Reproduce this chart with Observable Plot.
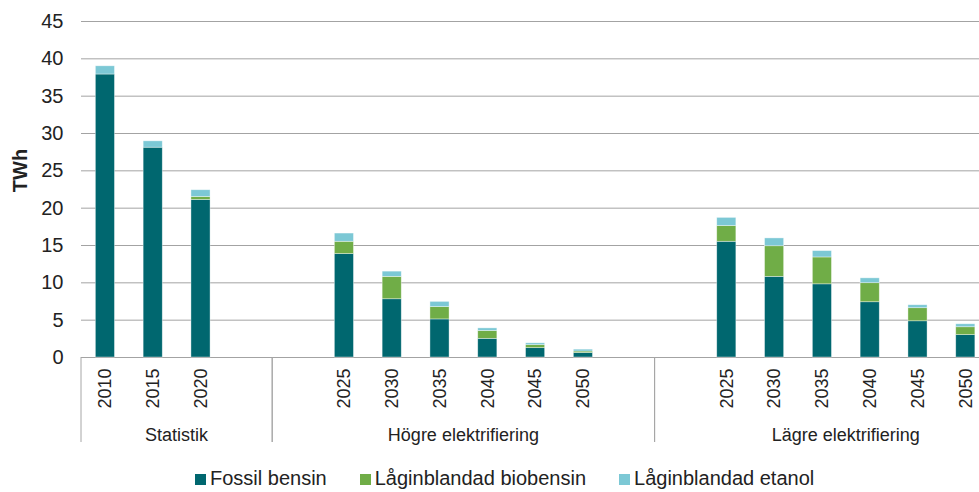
<!DOCTYPE html>
<html>
<head>
<meta charset="utf-8">
<script src="https://cdn.jsdelivr.net/npm/d3@7"></script>
<script src="https://cdn.jsdelivr.net/npm/@observablehq/plot@0.6"></script>
<style>
  html, body { margin: 0; padding: 0; background: #fff; }
  #wrap { width: 979px; height: 492px; overflow: hidden; position: relative; font-family: "Liberation Sans", Arial, sans-serif; }
  #chart { width: 979px; height: 463px; overflow: hidden; }
  #chart svg { max-width: none !important; }
  #legend { display: flex; justify-content: flex-start; align-items: baseline; padding-left: 195px; padding-top: 3px; font-size: 20px; color: #222; line-height: 24px; }
  #legend .item { margin-right: 33px; }
  #legend .sw { display: inline-block; width: 11px; height: 11px; margin-right: 4px; }
</style>
</head>
<body>
<div id="wrap">
  <div id="chart"></div>
  <div id="legend"></div>
</div>
<script>
// ---- data ----
const groups = ["Statistik", "Högre elektrifiering", "Lägre elektrifiering"];
const statistikYears = ["2010", "2015", "2020"];
const hogreYears = ["2025", "2030", "2035", "2040", "2045", "2050"];
const lagreYears = ["2025", "2030", "2035", "2040", "2045", "2050"];
const seriesNames = ["Fossil bensin", "Låginblandad biobensin", "Låginblandad etanol"];
const seriesColors = ["#00676F", "#70AD47", "#7CC8D5"];
const fossil    = [37.9, 28.1, 21.1, 13.85, 7.8, 5.1, 2.5, 1.25, 0.6, 15.5, 10.8, 9.8, 7.4, 4.85, 3.0];
const biobensin = [0, 0, 0.4, 1.65, 3.0, 1.65, 1.05, 0.4, 0.2, 2.1, 4.1, 3.6, 2.55, 1.75, 1.05];
const etanol    = [1.1, 0.85, 0.9, 1.1, 0.7, 0.7, 0.35, 0.25, 0.25, 1.1, 1.05, 0.85, 0.65, 0.4, 0.4];
const yTicks = [0, 5, 10, 15, 20, 25, 30, 35, 40, 45];

// ---- build slots (group layout: Statistik has a trailing empty slot, others leading+trailing) ----
const groupSlots = [];
const labelOf = new Map();
const barKeys = [];
[[groups[0], statistikYears, false], [groups[1], hogreYears, true], [groups[2], lagreYears, true]].forEach(([g, years, lead]) => {
  const keys = [];
  if (lead) { const k = g + "|pre"; keys.push(k); labelOf.set(k, ""); }
  years.forEach(y => { const k = g + "|" + y; keys.push(k); labelOf.set(k, y); barKeys.push(k); });
  const k2 = g + "|post"; keys.push(k2); labelOf.set(k2, "");
  groupSlots.push({group: g, keys});
});
const slotKeys = groupSlots.flatMap(d => d.keys);
const seriesValues = [fossil, biobensin, etanol];
const rows = [];
barKeys.forEach((k, i) => {
  seriesNames.forEach((s, si) => rows.push({slot: k, series: s, value: seriesValues[si][i]}));
});

const plot = Plot.plot({
  width: 1037,
  height: 463,
  marginLeft: 81,
  marginRight: 0,
  marginTop: 21,
  marginBottom: 106,
  style: {fontFamily: "Liberation Sans, Arial, sans-serif", fontSize: "18px", color: "#222", background: "#fff", maxWidth: "none"},
  x: {domain: slotKeys, paddingInner: 0.6, paddingOuter: 0.3, align: 0.5, round: false, axis: null},
  y: {domain: [0, 45], axis: null},
  color: {domain: seriesNames, range: seriesColors},
  marks: [
    Plot.gridY(yTicks, {stroke: "#a3a3a3", strokeOpacity: 1}),
    Plot.barY(rows, {x: "slot", y: "value", fill: "series", order: seriesNames, stroke: "#ffffff", strokeWidth: 0.7, strokeOpacity: 0.55}),
    Plot.axisY(yTicks, {tickSize: 0, tickPadding: 18, fontSize: 20, label: null}),
    Plot.axisX({tickRotate: -90, tickSize: 0, tickPadding: 11, fontSize: 18, label: null, tickFormat: k => labelOf.get(k)}),
    Plot.text(["TWh"], {frameAnchor: "left", textAnchor: "middle", lineAnchor: "middle", rotate: -90, dx: -61, dy: -19, fontWeight: "bold", fontSize: 20, fill: "#222"})
  ]
});

// group separators and labels, placed with the plot's own scales
const xs = plot.scale("x");
const ys = plot.scale("y");
const y0 = ys.apply(0);
const svg = d3.select(plot);
svg.style("max-width", "none");
const g = svg.append("g").attr("font-size", 18).attr("fill", "#222").attr("text-anchor", "middle");
groupSlots.forEach(({group, keys}) => {
  const left = xs.apply(keys[0]) + xs.bandwidth / 2 - xs.step / 2;
  const right = xs.apply(keys[keys.length - 1]) + xs.bandwidth / 2 + xs.step / 2;
  g.append("line").attr("x1", left).attr("x2", left).attr("y1", y0).attr("y2", y0 + 85)
    .attr("stroke", "#a6a6a6");
  g.append("line").attr("x1", right).attr("x2", right).attr("y1", y0).attr("y2", y0 + 85)
    .attr("stroke", "#a6a6a6");
  g.append("text").attr("x", (left + right) / 2).attr("y", y0 + 84).text(group);
});
document.getElementById("chart").appendChild(plot);

// legend
const legend = d3.select("#legend");
seriesNames.forEach((s, i) => {
  const item = legend.append("span").attr("class", "item");
  item.append("span").attr("class", "sw").style("background", seriesColors[i]);
  item.append("span").text(s);
});
</script>
</body>
</html>
